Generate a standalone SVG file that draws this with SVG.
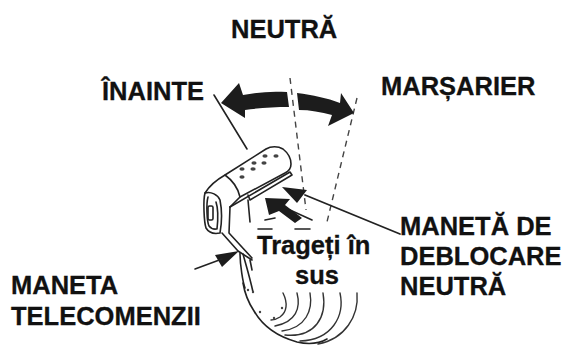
<svg xmlns="http://www.w3.org/2000/svg" width="568" height="345" viewBox="0 0 568 345">
<style>
.l{font-family:"Liberation Sans",Arial,sans-serif;font-weight:700;font-size:25.5px;fill:#111;stroke:#111;stroke-width:.3}
.s{fill:none;stroke:#222;stroke-width:1.6;stroke-linecap:round;stroke-linejoin:round}
.t{fill:none;stroke:#333;stroke-width:1.4;stroke-linecap:round}
.d{fill:none;stroke:#444;stroke-width:1.4;stroke-dasharray:6 5}
.a{fill:#1c1c1c;stroke:none}
.h{fill:#444}
</style>
<rect width="568" height="345" fill="#fff"/>
<g id="lever">
<path class="s" d="M205 193C210 185 218 179 225 175L266 149C271 146 278 146 283 149C288 153 291 158 291 164C291 168 289 171 285 173L240 197"/>
<path class="s" d="M225 175C232 180 238 188 240 197L230 207"/>
<path class="s" d="M230 207L290 172L292 175L250 200L248 195"/>
<path class="s" d="M205 193C203 200 204 222 206 228C209 233 215 234 220 233C222 222 222 210 220 200C218 195 211 191 205 193Z"/>
<path class="s" d="M208 197C206 204 207 222 209 226C212 230 215 229 217 229C218 220 218 208 216 202"/>
<rect class="s" x="208" y="206" width="5" height="14" rx="1.5"/>
<path class="s" d="M230 207L229 233L252 258M222 233L238 251L252 260"/>
<path class="s" d="M248 200L250 222M265 220L275 218M258 229H272M295 229H310M290 210L312 220"/>
<path class="s" d="M240 253C240 265 243 283 245 288M243 254C246 265 250 278 253 292M250 260L252 270"/>
<path class="s" d="M243 283C245 295 250 305 254 311C262 325 275 336 297 342C310 345 320 343 327 339"/>
<path class="t" d="M283 293C288 303 287 312 280 317C277 319 274 320 271 320"/>
<path class="t" d="M297 293C301 308 296 322 275 326"/>
<path class="t" d="M310 293C313 310 306 328 282 331"/>
<path class="t" d="M323 293C327 316 316 338 285 335"/>
<path class="t" d="M340 293C345 316 332 340 300 341"/>
<path class="t" d="M357 293C359 316 345 339 318 344"/>
<g class="h"><ellipse cx="265" cy="156" rx="2.6" ry="1.8"/><ellipse cx="276" cy="156" rx="2.6" ry="1.8"/><ellipse cx="254" cy="163" rx="2.6" ry="1.8"/><ellipse cx="264" cy="163" rx="2.6" ry="1.8"/><ellipse cx="242" cy="169" rx="2.6" ry="1.8"/><ellipse cx="253" cy="169" rx="2.6" ry="1.8"/><ellipse cx="242" cy="177" rx="2.6" ry="1.8"/>
<circle cx="248" cy="290" r="1.2"/><circle cx="253" cy="292" r="1.2"/><circle cx="260" cy="312" r="1.2"/><circle cx="274" cy="318" r="1.2"/><circle cx="282" cy="308" r="1.2"/></g>
</g>
<g id="connectors">
<path class="d" d="M290 78L306 210"/>
<path class="d" d="M357 98L327 222"/>
<path class="a" d="M221 103L239 83L243 95C258 92 272 91 287 92L289 107C274 107 259 108 245 110L245 118Z"/>
<path class="a" d="M297 93C313 95 327 98 340 103L341 93L354 113L328 126L332 115C321 112 310 110 299 110Z"/>
<path class="s" d="M214 95L247 149"/>
<path class="a" d="M282 187L307 190L297 203Z"/>
<path class="s" d="M305 195L400 234" style="stroke-width:1.8"/>
<path class="a" d="M265 198L290 199L285 205L302 218L295 223L279 211L269 215Z"/>
<path class="a" d="M239 251L215 255L222 267Z"/>
<path class="s" d="M195 269L222 259"/>
</g>
<g id="label-neutra"><text class="l" x="231" y="38">NEUTRĂ</text></g>
<g id="label-inainte"><text class="l" x="102" y="100">ÎNAINTE</text></g>
<g id="label-marsarier"><text class="l" x="381" y="95">MARȘARIER</text></g>
<g id="label-deblocare"><text class="l" x="400" y="235">MANETĂ DE</text><text class="l" x="400" y="265">DEBLOCARE</text><text class="l" x="400" y="295">NEUTRĂ</text></g>
<g id="label-trageti"><text class="l" x="257" y="254">Trageți în</text><text class="l" x="295" y="284">sus</text></g>
<g id="label-telecomenzii"><text class="l" x="11" y="294">MANETA</text><text class="l" x="11" y="325">TELECOMENZII</text></g>
</svg>
